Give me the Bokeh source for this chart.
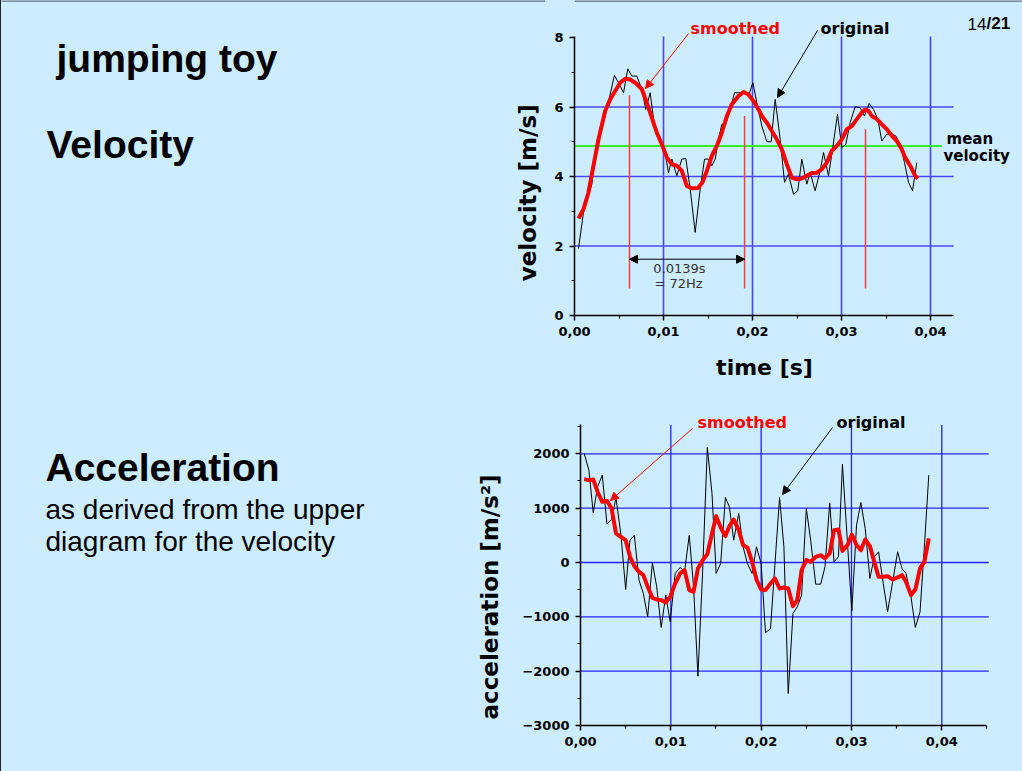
import numpy as np
from bokeh.plotting import figure
from bokeh.models import Range1d, FixedTicker, CustomJSTickFormatter, Label, Arrow, NormalHead, Span
from bokeh.layouts import column, row
from bokeh.embed import file_html
from bokeh.resources import INLINE

# ---------------- data ----------------
# velocity, original (time in ms, velocity in m/s)
vel_orig_t_ms = [0.45, 1.01, 1.95, 2.51, 3.45, 4.49, 4.94, 5.51, 5.99, 6.44,
                 7.00, 7.57, 8.01, 8.50, 9.06, 9.55, 10.11, 10.56, 10.94, 11.50,
                 12.06, 12.51, 13.00, 13.56, 14.12, 14.61, 15.06, 15.43, 15.81, 16.18,
                 16.55, 17.00, 17.49, 17.98, 18.43, 18.99, 19.55, 20.04, 20.49, 21.05,
                 21.61, 22.10, 22.55, 23.11, 23.60, 24.04, 24.61, 25.09, 25.54, 26.10,
                 26.48, 27.04, 27.60, 27.98, 28.54, 28.99, 29.55, 30.04, 30.49, 30.97,
                 31.54, 32.10, 32.58, 33.11, 33.60, 34.08, 34.53, 35.09, 35.66, 36.10,
                 36.59, 37.08, 37.53, 37.98, 38.46]
vel_orig = [1.93, 2.97, 3.78, 5.02, 5.74, 6.91, 6.70, 6.41, 7.10, 6.89,
            6.89, 6.51, 5.93, 6.41, 5.31, 5.17, 4.78, 4.11, 4.50, 4.02,
            4.50, 4.52, 3.64, 2.39, 3.64, 4.50, 4.50, 4.31, 4.50, 5.07,
            5.50, 5.50, 5.93, 6.41, 6.41, 6.41, 6.32, 6.70, 6.12, 5.45,
            5.00, 5.00, 6.22, 5.07, 3.83, 4.07, 3.49, 3.59, 4.50, 3.78,
            4.11, 3.59, 4.16, 4.69, 4.02, 4.78, 5.79, 4.83, 4.93, 5.55,
            6.01, 5.98, 5.74, 6.10, 5.93, 5.65, 5.02, 5.22, 5.22, 5.17,
            4.93, 4.40, 3.83, 3.59, 4.40]
# velocity, smoothed
vel_smooth_t_ms = [0.45, 1.01, 1.57, 2.13, 2.70, 3.45, 4.01, 4.57, 5.13, 5.69,
                   6.25, 6.82, 7.57, 8.13, 8.69, 9.25, 9.81, 10.37, 10.94, 11.50,
                   12.06, 12.62, 13.18, 13.86, 14.38, 14.87, 15.43, 15.99, 16.55, 17.12,
                   17.68, 18.43, 18.99, 19.55, 20.11, 20.67, 21.05, 21.61, 22.17, 22.73,
                   23.30, 23.86, 24.42, 24.98, 25.54, 26.10, 26.67, 27.23, 27.79, 28.35,
                   28.91, 29.48, 30.04, 30.60, 31.16, 31.72, 32.28, 32.66, 33.03, 33.41,
                   33.97, 34.53, 35.09, 35.66, 36.22, 36.78, 37.15, 37.72, 38.28, 38.58]
vel_smooth = [2.79, 3.06, 3.54, 4.31, 5.07, 5.89, 6.22, 6.46, 6.70, 6.81,
              6.79, 6.70, 6.51, 6.12, 5.69, 5.26, 4.93, 4.55, 4.35, 4.31,
              4.16, 3.73, 3.66, 3.67, 3.83, 4.16, 4.59, 4.88, 5.26, 5.74,
              6.08, 6.32, 6.43, 6.36, 6.17, 5.93, 5.74, 5.55, 5.31, 5.07,
              4.78, 4.35, 3.97, 3.92, 3.94, 4.02, 4.10, 4.11, 4.21, 4.40,
              4.74, 4.88, 5.07, 5.36, 5.45, 5.65, 5.84, 5.93, 5.89, 5.74,
              5.65, 5.50, 5.36, 5.17, 5.02, 4.78, 4.55, 4.31, 4.02, 3.94]
mean_velocity = 4.88
period_marks_s = [0.00618, 0.01911, 0.0327]
period_tops = [6.34, 5.74, 5.36]
period_bottom = 0.78

# acceleration (time in ms, acceleration in m/s^2)
acc_t_ms = [0.41, 0.93, 1.41, 1.89, 2.41, 2.93, 3.44, 3.93, 4.48, 5.00,
            5.48, 5.96, 6.48, 6.96, 7.44, 7.96, 8.44, 8.93, 9.44, 9.93,
            10.48, 11.04, 11.52, 12.04, 12.52, 13.00, 13.52, 14.04, 14.56, 15.02,
            15.52, 16.04, 16.48, 16.96, 17.52, 18.00, 18.48, 19.00, 19.48, 20.00,
            20.48, 21.04, 21.52, 22.04, 22.52, 23.00, 23.52, 24.00, 24.48, 25.00,
            25.48, 26.04, 26.59, 27.07, 27.59, 28.07, 28.56, 29.00, 29.56, 30.04,
            30.56, 31.04, 31.52, 32.04, 32.52, 33.00, 33.52, 34.00, 34.56, 35.11,
            35.59, 36.04, 36.59, 37.07, 37.59, 38.07, 38.56]
acc_orig = [2006, 1699, 914, 1393, 1607, 706, 791, 1190, 503, -497,
            411, 503, -325, -571, -1000, -6, -448, -1196, -601, -1092,
            -202, -92, -172, 503, -448, -2092, -172, 2117, 1270, -202,
            -18, 1196, 1025, 411, 902, 288, -18, -202, 288, -18,
            -1294, -1215, -49, 1196, 288, -2411, -939, -816, -601, 994,
            411, -399, -399, -80, 1098, 12, 104, 1810, 350, -890,
            687, 1104, 626, -294, 104, 196, -386, -908, -356, 196,
            -110, -202, -632, -1196, -908, 288, 1607]
acc_smooth = [1534, 1515, 1528, 1301, 1117, 1135, 994, 534, 472, 411,
              104, -67, -172, -233, -448, -650, -681, -693, -736, -632,
              -387, -202, -141, -509, -540, -110, 43, 153, 534, 853,
              644, 485, 669, 791, 595, 319, 276, 12, -313, -497,
              -509, -387, -294, -479, -460, -479, -804, -693, -141, 43,
              12, 104, 135, 74, 166, 595, 607, 215, 319, 515,
              319, 227, 423, 301, 12, -264, -264, -252, -313, -276,
              -233, -356, -601, -497, -110, 12, 442]

x_ticks = [0.0, 0.01, 0.02, 0.03, 0.04]
x_minor = [0.005, 0.015, 0.025, 0.035, 0.045]
x_grid = [0.01, 0.02, 0.03, 0.04]
vel_ticks = [0, 2, 4, 6, 8]
vel_minor = [1, 3, 5, 7]
vel_grid = [2, 4, 6]
acc_ticks = [-3000, -2000, -1000, 0, 1000, 2000]
acc_minor = [-2500, -1500, -500, 500, 1500, 2500]
acc_grid = [-2000, -1000, 0, 1000, 2000]

# ---------------- style ----------------
BG = "#CCECFF"
FONT = "DejaVu Sans"
SLIDE_FONT = "Liberation Sans"

# ---------------- geometry (window pixels) ----------------
PAGE_W = 1022
EDGE = 1                      # slide frame line on the left
H1, H2 = 344, 427
WL1, WL2 = 544, 514
# top chart: x=0 at px 574, 8900 px per s ; v=0 at px 315, 34.75 px per m/s
T_X0, T_SX, T_Y0, T_SY = 574, 8900.0, 315, 34.75
T_XMAX, T_VMAX = 0.0426, 8.03
# bottom chart: x=0 at px 580, 9032.5 px per s ; a=-3000 at px 725, 0.05434 px per m/s^2
B_X0, B_SX, B_Y0, B_SY = 580, 9032.5, 725, 0.05434
B_XMAX, B_AMAX, B_AMIN = 0.045, 2530, -3000


def top_pos(X, Y):
    return (X - T_X0) / T_SX, (T_Y0 - Y) / T_SY


def bot_pos(X, Y):
    return (X - B_X0) / B_SX, B_AMIN + (B_Y0 - Y) / B_SY


def style_axes(p):
    for ax in (p.xaxis[0], p.yaxis[0]):
        ax.axis_line_width = 1.5
        ax.axis_line_color = "black"
        ax.major_tick_line_width = 1.5
        ax.minor_tick_line_width = 1.2
        ax.major_tick_in = 0
        ax.major_tick_out = 5
        ax.minor_tick_in = 0
        ax.minor_tick_out = 3
        ax.major_label_text_font = FONT
        ax.major_label_text_font_style = "bold"
        ax.major_label_text_font_size = "13px"
        ax.major_label_text_color = "black"
        ax.major_label_standoff = 6
    p.xaxis.formatter = CustomJSTickFormatter(code="return tick.toFixed(2).replace('.', ',');")
    p.xgrid.visible = False
    p.ygrid.visible = False


def text(p, pos, s, size, color="black", bold=True, font=FONT, align="left",
         baseline="middle", angle=0.0):
    x, y = pos
    p.add_layout(Label(x=x, y=y, text=s, text_font=font, text_font_size=size,
                       text_font_style="bold" if bold else "normal", text_color=color,
                       text_align=align, text_baseline=baseline, angle=angle))


def arrow(p, a, b, color, both=False):
    head = lambda: NormalHead(size=8, fill_color=color, line_color=color, line_width=1)
    p.add_layout(Arrow(start=head() if both else None, end=head(),
                       x_start=a[0], y_start=a[1], x_end=b[0], y_end=b[1],
                       line_color=color, line_width=1))


def edge(p, loc, dim):
    p.add_layout(Span(location=loc, dimension=dim, line_color="#222222", line_width=1))


def blank(w, h, y_top, y_bot):
    f = figure(width=w, height=h, x_range=Range1d(0, w), y_range=Range1d(y_bot, y_top),
               x_axis_type=None, y_axis_type=None, output_backend="svg",
               toolbar_location=None, min_border=0,
               background_fill_color=BG, border_fill_color=BG, outline_line_color=None)
    return f


# ================= left slide panels =================
left_top = blank(WL1, H1, 0, H1)
left_bot = blank(WL2, H2, H1, H1 + H2)

text(left_top, (55, 63), "jumping toy", "39px", font=SLIDE_FONT, baseline="alphabetic")
text(left_top, (45, 157), "Velocity", "39px", font=SLIDE_FONT, baseline="alphabetic")
text(left_top, (526, 210), "velocity [m/s]", "23px", align="center", angle=np.pi / 2)
edge(left_top, 0.5, "width")

text(left_bot, (44, 482), "Acceleration", "39px", font=SLIDE_FONT, baseline="alphabetic")
text(left_bot, (44, 529), "as derived from the upper", "28px", bold=False, font=SLIDE_FONT,
     baseline="alphabetic")
text(left_bot, (44, 565), "diagram for the velocity", "28px", bold=False, font=SLIDE_FONT,
     baseline="alphabetic")
text(left_bot, (488, 627), "acceleration [m/s²]", "23px", align="center", angle=np.pi / 2)

# ================= top: velocity =================
tw = PAGE_W - EDGE - WL1
top = figure(width=tw, height=H1,
             x_range=Range1d(0, (PAGE_W - T_X0) / T_SX), y_range=Range1d(0, T_Y0 / T_SY),
             output_backend="svg", toolbar_location=None,
             min_border_left=T_X0 - EDGE - WL1, min_border_right=0, min_border_top=0,
             min_border_bottom=H1 - T_Y0,
             background_fill_color=BG, border_fill_color=BG, outline_line_color=None)
style_axes(top)
top.xaxis.ticker = FixedTicker(ticks=x_ticks, minor_ticks=x_minor[:4])
top.yaxis.ticker = FixedTicker(ticks=vel_ticks, minor_ticks=vel_minor)
top.xaxis.bounds = (0, T_XMAX)
top.yaxis.bounds = (0, T_VMAX)
edge(top, top_pos(0, 0.5)[1], "width")

GRID_T = "#4848FF"
top.segment(x0=x_grid, y0=[0] * len(x_grid), x1=x_grid, y1=[T_VMAX] * len(x_grid),
            line_color=GRID_T, line_width=1.6)
top.segment(x0=[0] * len(vel_grid), y0=vel_grid, x1=[T_XMAX] * len(vel_grid), y1=vel_grid,
            line_color=GRID_T, line_width=1.6)

vel_t = np.array(vel_orig_t_ms) / 1000.0
vel_ts = np.array(vel_smooth_t_ms) / 1000.0

top.line([0.0, 0.0413], [mean_velocity, mean_velocity], line_color="#33EE33", line_width=2)
top.segment(x0=period_marks_s, y0=[period_bottom] * 3, x1=period_marks_s, y1=period_tops,
            line_color="#FF3B3B", line_width=1.5)
top.line(vel_t, vel_orig, line_color="black", line_width=1)
top.line(vel_ts, vel_smooth, line_color="#FF0000", line_width=4, line_join="round")

arrow(top, (period_marks_s[0], 1.62), (period_marks_s[1], 1.62), "black", both=True)
text(top, top_pos(679, 268), "0.0139s", "13px", color="#333333", bold=False, align="center")
text(top, top_pos(678, 283), "= 72Hz", "13px", color="#333333", bold=False, align="center")

text(top, top_pos(690, 28), "smoothed", "16px", color="#FF0000")
arrow(top, top_pos(688, 33), top_pos(645, 88), "#FF0000")
text(top, top_pos(820, 28), "original", "16px")
arrow(top, top_pos(817, 30), top_pos(777, 97), "black")
text(top, top_pos(946, 138), "mean", "15px")
text(top, top_pos(943, 155), "velocity", "15px")
text(top, top_pos(967, 23), "14", "17px", bold=False, font=SLIDE_FONT, baseline="alphabetic")
text(top, top_pos(986, 23), "/21", "17px", font=SLIDE_FONT, baseline="alphabetic")

# ================= bottom: acceleration =================
bw = PAGE_W - EDGE - WL2
bot = figure(width=bw, height=H2,
             x_range=Range1d(0, (PAGE_W - B_X0) / B_SX),
             y_range=Range1d(B_AMIN, B_AMIN + (B_Y0 - H1) / B_SY),
             output_backend="svg", toolbar_location=None,
             min_border_left=B_X0 - EDGE - WL2, min_border_right=0, min_border_top=0,
             min_border_bottom=H1 + H2 - B_Y0,
             background_fill_color=BG, border_fill_color=BG, outline_line_color=None)
style_axes(bot)
bot.xaxis.ticker = FixedTicker(ticks=x_ticks, minor_ticks=x_minor)
bot.yaxis.ticker = FixedTicker(ticks=acc_ticks, minor_ticks=acc_minor)
bot.xaxis.bounds = (0, B_XMAX)
bot.yaxis.bounds = (B_AMIN, B_AMAX)

GRID_B = "#2424FF"
bot.segment(x0=x_grid, y0=[B_AMIN] * len(x_grid), x1=x_grid, y1=[B_AMAX] * len(x_grid),
            line_color=GRID_B, line_width=1.3)
bot.segment(x0=[0] * len(acc_grid), y0=acc_grid, x1=[0.0452] * len(acc_grid), y1=acc_grid,
            line_color=GRID_B, line_width=1.3)

acc_t = np.array(acc_t_ms) / 1000.0
bot.line(acc_t, acc_orig, line_color="black", line_width=1)
bot.line(acc_t, acc_smooth, line_color="#FF0000", line_width=4, line_join="round")

# x-axis title of the velocity chart sits in the gap above the acceleration chart
text(bot, bot_pos(764, 367), "time [s]", "22px", align="center")

text(bot, bot_pos(697, 422), "smoothed", "16px", color="#FF0000")
arrow(bot, bot_pos(692, 428), bot_pos(610, 500), "#FF0000")
text(bot, bot_pos(836, 422), "original", "16px")
arrow(bot, bot_pos(832, 427), bot_pos(782, 494), "black")

st = {"background-color": BG}
layout = column(row(left_top, top, spacing=0, styles=st),
                row(left_bot, bot, spacing=0, styles=st), spacing=0,
                styles={"background-color": BG, "border-left": "1px solid #222222"})
open("out.html", "w").write(file_html(layout, INLINE))
